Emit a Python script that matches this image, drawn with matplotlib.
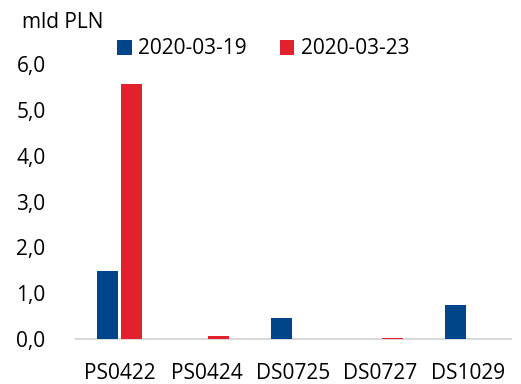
import matplotlib
matplotlib.use("Agg")
import matplotlib.pyplot as plt
import numpy as np

categories = ["PS0422", "PS0424", "DS0725", "DS0727", "DS1029"]
series_names = ["2020-03-19", "2020-03-23"]
values_0319 = [1.48, 0.0, 0.45, 0.0, 0.74]
values_0323 = [5.57, 0.07, 0.0, 0.03, 0.0]
yticks = [0.0, 1.0, 2.0, 3.0, 4.0, 5.0, 6.0]
ytick_labels = ["0,0", "1,0", "2,0", "3,0", "4,0", "5,0", "6,0"]
unit_label = "mld PLN"

blue = "#004489"
red = "#E3202E"

plt.rcParams['font.family'] = ['Open Sans', 'DejaVu Sans']

fig = plt.figure(figsize=(5.21, 3.84), dpi=100)
ax = fig.add_axes([0.146, 0.117, 0.835, 0.716])

x = np.arange(len(categories))
w = 0.25
ax.bar(x - w / 2 - 0.013, values_0319, width=w, color=blue, label=series_names[0], zorder=3)
ax.bar(x + w / 2 + 0.013, values_0323, width=w, color=red, label=series_names[1], zorder=3)

ax.set_xlim(-0.5, len(categories) - 0.5)
ax.set_ylim(0, 6.0)
ax.set_yticks(yticks)
ax.set_yticklabels(ytick_labels)
ax.set_xticks(x)
ax.set_xticklabels(categories)
ax.tick_params(axis='both', length=0, labelsize=15, colors='black')
ax.tick_params(axis='y', pad=22)
ax.tick_params(axis='x', pad=17)

for s in ["top", "right", "left"]:
    ax.spines[s].set_visible(False)
ax.spines["bottom"].set_color("#d9d9d9")
ax.spines["bottom"].set_linewidth(1.5)
ax.spines["bottom"].set_zorder(2)

fig.text(22 / 521, 1 - 22 / 384, unit_label, fontsize=15, va='center', ha='left')

leg = fig.legend(loc='center left', bbox_to_anchor=(117 / 521, 1 - 49 / 384), ncol=2,
                 frameon=False, fontsize=15, handlelength=0.7, handleheight=0.7,
                 handletextpad=0.3, columnspacing=1.6, borderaxespad=0, borderpad=0)

fig.savefig("out.png", dpi=100)
